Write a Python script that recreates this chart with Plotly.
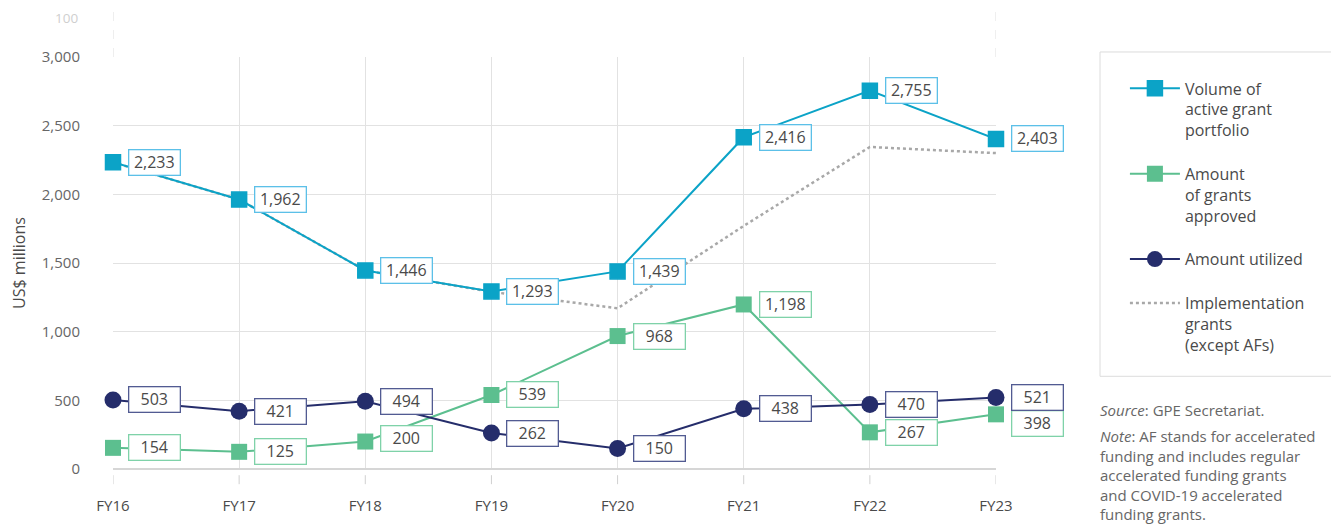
import plotly.graph_objects as go

# data
years = ["FY16", "FY17", "FY18", "FY19", "FY20", "FY21", "FY22", "FY23"]
volume_active = [2233, 1962, 1446, 1293, 1439, 2416, 2755, 2403]
grants_approved = [154, 125, 200, 539, 968, 1198, 267, 398]
amount_utilized = [503, 421, 494, 262, 150, 438, 470, 521]
implementation_ex_af = [2233, 1962, 1446, 1290, 1170, 1770, 2345, 2300]

FONT = "Open Sans, Noto Sans, sans-serif"
TEXT = "#4a4a4a"
BLUE, BLUE_BOX = "#0ba3c7", "#5cc0e8"
GREEN, GREEN_BOX = "#5cbf8f", "#7fd2a9"
NAVY, NAVY_BOX = "#252d6b", "#525b92"

# nudge boxes that would collide (pixels, up is positive)
label_nudge = {("approved", "FY23"): -9, ("approved", "FY18"): 3}

fig = go.Figure()

fig.add_trace(go.Scatter(
    x=years, y=implementation_ex_af, mode="lines",
    name="Implementation<br>grants<br>(except AFs)",
    line=dict(color="#a8a8a8", width=2.5, dash="dot"),
    legendgroup="d", legendrank=4, cliponaxis=False,
))
fig.add_trace(go.Scatter(
    x=years, y=grants_approved, mode="lines+markers",
    name="Amount<br>of grants<br>approved",
    line=dict(color=GREEN, width=2),
    marker=dict(symbol="square", size=16, color=GREEN),
    legendgroup="b", legendrank=2, cliponaxis=False,
))
fig.add_trace(go.Scatter(
    x=years, y=amount_utilized, mode="lines+markers",
    name="Amount utilized",
    line=dict(color=NAVY, width=2),
    marker=dict(symbol="circle", size=17, color=NAVY),
    legendgroup="c", legendrank=3, cliponaxis=False,
))
fig.add_trace(go.Scatter(
    x=years, y=volume_active, mode="lines+markers",
    name="Volume of<br>active grant<br>portfolio",
    line=dict(color=BLUE, width=2),
    marker=dict(symbol="square", size=15, color=BLUE,
                line=dict(color=BLUE, width=1.5)),
    legendgroup="a", legendrank=1, cliponaxis=False,
))

# value boxes
for key, vals, border in [("volume", volume_active, BLUE_BOX),
                          ("approved", grants_approved, GREEN_BOX),
                          ("utilized", amount_utilized, NAVY_BOX)]:
    for x, v in zip(years, vals):
        fig.add_annotation(
            x=x, y=v, text=f"{v:,}", showarrow=False,
            xanchor="left", xshift=15, yshift=label_nudge.get((key, x), 0),
            font=dict(family=FONT, size=16, color=TEXT),
            bgcolor="white", bordercolor=border, borderwidth=1.3, borderpad=1,
            width=48,
        )

# dashed tick marks under the x axis
for x in years:
    fig.add_shape(type="line", xref="x", yref="paper", x0=x, x1=x,
                  y0=-0.015, y1=-0.05, line=dict(color="#d0d0d0", width=1, dash="dash"))

# stray secondary-axis remnants at the top
for x in [years[0], years[-1]]:
    fig.add_shape(type="line", xref="x", yref="paper", x0=x, x1=x,
                  y0=1.0, y1=1.112, line=dict(color="#dedede", width=1, dash="dash"))
fig.add_annotation(xref="paper", yref="paper", x=-0.037, y=1.095, text="100",
                   showarrow=False, xanchor="right", yanchor="middle",
                   font=dict(family=FONT, size=13.5, color="#cfcfcf"))

# legend frame
fig.add_shape(type="rect", xref="paper", yref="paper",
              x0=1.1178, x1=1.3805, y0=0.225, y1=1.0122,
              line=dict(color="#dcdcdc", width=1), fillcolor="white", layer="below")

# source / note
fig.add_annotation(xref="paper", yref="paper", x=1.1155, y=0.143, xanchor="left",
                   yanchor="middle", align="left", showarrow=False,
                   text="<i>Source</i>: GPE Secretariat.",
                   font=dict(family=FONT, size=15, color="#666"))
fig.add_annotation(xref="paper", yref="paper", x=1.1155, y=0.11, xanchor="left",
                   yanchor="top", align="left", showarrow=False,
                   text="<i>Note</i>: AF stands for accelerated<br>funding and includes regular"
                        "<br>accelerated funding grants<br>and COVID-19 accelerated<br>funding grants.",
                   font=dict(family=FONT, size=15, color="#666"))

# the page body has an 8px margin, so the figure is 8px smaller and margins shifted
fig.update_layout(
    width=1331, height=517,
    margin=dict(l=105, r=343, t=49, b=56, autoexpand=False),
    plot_bgcolor="white", paper_bgcolor="white",
    font=dict(family=FONT, size=14, color=TEXT),
    legend=dict(
        x=1.146, y=0.965, xanchor="left", yanchor="top",
        bgcolor="rgba(0,0,0,0)", borderwidth=0,
        font=dict(family=FONT, size=16, color=TEXT),
        tracegroupgap=20, valign="top", itemwidth=50,
    ),
    xaxis=dict(
        range=[0, 7], showgrid=True, gridcolor="#e2e2e2", gridwidth=1,
        showline=False, zeroline=False, ticks="", ticklabelstandoff=26,
        tickfont=dict(size=15, color=TEXT), automargin=False,
    ),
    yaxis=dict(
        range=[0, 3000], tickvals=[0, 500, 1000, 1500, 2000, 2500, 3000],
        tickformat=",", showgrid=True, gridcolor="#e2e2e2", gridwidth=1,
        zeroline=True, zerolinecolor="#d6d6d6", zerolinewidth=1.5,
        ticklabelstandoff=32, tickfont=dict(size=15, color="#666"),
        automargin=False,
        title=dict(text="US$ millions", standoff=14, font=dict(size=16, color=TEXT)),
    ),
)

fig.write_html("out.html")
